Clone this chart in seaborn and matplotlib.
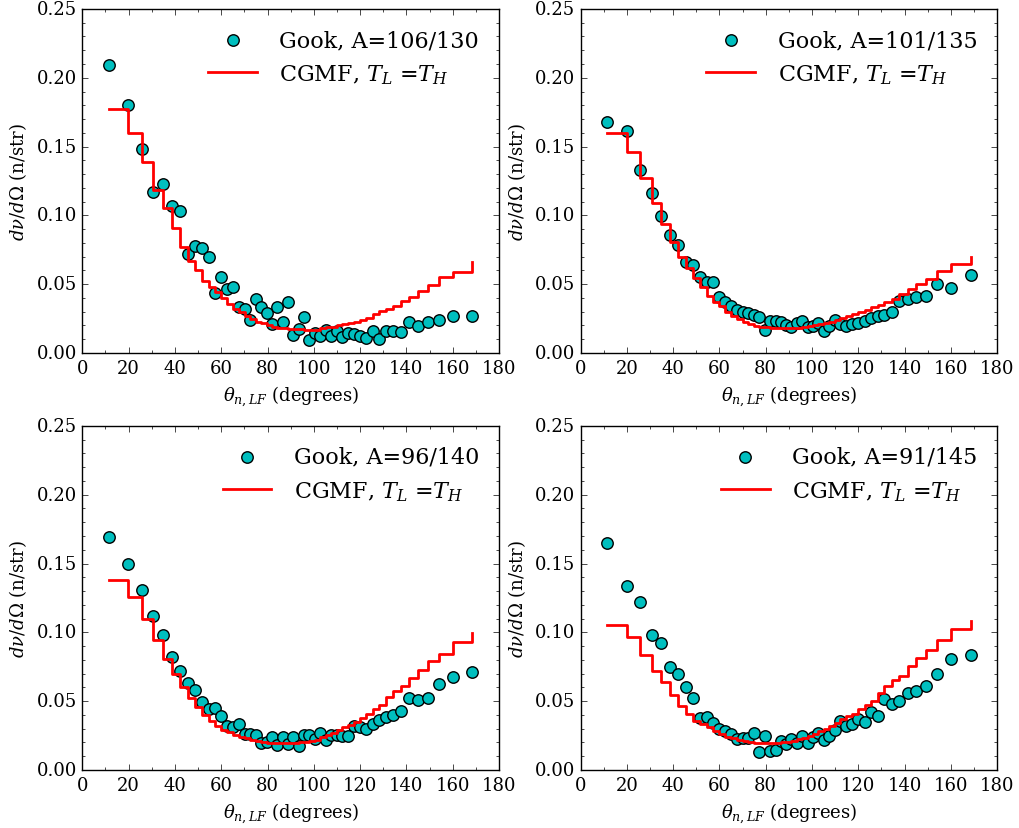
import matplotlib
matplotlib.use("Agg")
import matplotlib.pyplot as plt
import seaborn as sns
from matplotlib.ticker import MultipleLocator, FormatStrFormatter

plt.style.use("classic")
plt.rcParams["font.family"] = ["DejaVu Serif"]
plt.rcParams["mathtext.fontset"] = "dejavuserif"

# neutron emission angle bins (degrees)
angles = [11.5, 19.9, 25.8, 30.7, 34.9, 38.7, 42.3, 45.6, 48.7, 51.7,
          54.6, 57.3, 60.0, 62.6, 65.2, 67.7, 70.1, 72.5, 74.9, 77.3,
          79.6, 82.0, 84.3, 86.6, 88.9, 91.1, 93.4, 95.7, 98.1, 100.4,
          102.7, 105.1, 107.5, 109.9, 112.3, 114.8, 117.4, 120.0, 122.7, 125.5,
          128.3, 131.3, 134.4, 137.7, 141.3, 145.1, 149.3, 154.2, 160.1, 168.5]

labels = ["A=106/130", "A=101/135", "A=96/140", "A=91/145"]

gook_106_130 = [0.209, 0.180, 0.148, 0.117, 0.123, 0.107, 0.103, 0.072, 0.0775, 0.0763,
                0.070, 0.0434, 0.055, 0.0465, 0.048, 0.0332, 0.032, 0.024, 0.039, 0.0337,
                0.0288, 0.021, 0.0337, 0.0228, 0.0368, 0.0133, 0.0174, 0.0264, 0.0092, 0.0145,
                0.0126, 0.017, 0.012, 0.0162, 0.0114, 0.0145, 0.014, 0.0126, 0.0111, 0.0162,
                0.0102, 0.0158, 0.0162, 0.0155, 0.0228, 0.0198, 0.0228, 0.0242, 0.0269, 0.0269]
cgmf_106_130 = [0.177, 0.160, 0.139, 0.1187, 0.105, 0.0906, 0.0773, 0.067, 0.0605, 0.0526,
                0.048, 0.044, 0.040, 0.0356, 0.032, 0.0296, 0.0271, 0.0247, 0.0223, 0.0215,
                0.0206, 0.0187, 0.018, 0.018, 0.0174, 0.0174, 0.0172, 0.0169, 0.0169, 0.0169,
                0.0178, 0.0187, 0.0192, 0.0206, 0.021, 0.0218, 0.0228, 0.024, 0.0257, 0.028,
                0.0305, 0.032, 0.034, 0.0375, 0.041, 0.045, 0.0494, 0.0555, 0.059, 0.0659]

gook_101_135 = [0.168, 0.161, 0.133, 0.1165, 0.0993, 0.086, 0.0787, 0.0659, 0.0642, 0.055,
                0.0518, 0.0518, 0.041, 0.0368, 0.0339, 0.031, 0.0296, 0.029, 0.0279, 0.026,
                0.0167, 0.023, 0.0235, 0.0223, 0.0203, 0.0187, 0.0218, 0.0235, 0.0187, 0.0194,
                0.0216, 0.0162, 0.0194, 0.0242, 0.0208, 0.0194, 0.021, 0.0216, 0.0235, 0.0252,
                0.0271, 0.0276, 0.030, 0.038, 0.039, 0.041, 0.0417, 0.050, 0.0475, 0.0567]
cgmf_101_135 = [0.160, 0.146, 0.127, 0.109, 0.094, 0.081, 0.070, 0.0615, 0.0545, 0.0477,
                0.0417, 0.0373, 0.034, 0.030, 0.0267, 0.0247, 0.0228, 0.021, 0.0199, 0.019,
                0.0187, 0.0183, 0.018, 0.018, 0.018, 0.0182, 0.0185, 0.019, 0.0197, 0.0203,
                0.021, 0.0218, 0.0228, 0.024, 0.0252, 0.0268, 0.0283, 0.030, 0.0315, 0.0332,
                0.0349, 0.037, 0.039, 0.043, 0.0465, 0.050, 0.054, 0.0598, 0.0647, 0.0695]

gook_96_140 = [0.169, 0.150, 0.1306, 0.1121, 0.0983, 0.0819, 0.0722, 0.0632, 0.0584, 0.0492,
               0.0443, 0.0448, 0.0395, 0.0318, 0.031, 0.0334, 0.0262, 0.0262, 0.0257, 0.0196,
               0.0201, 0.0242, 0.0182, 0.0237, 0.0189, 0.0237, 0.0177, 0.0257, 0.0257, 0.0225,
               0.0267, 0.022, 0.0257, 0.0255, 0.025, 0.025, 0.0322, 0.031, 0.0298, 0.0334,
               0.0366, 0.0383, 0.040, 0.0431, 0.0521, 0.0511, 0.0521, 0.0625, 0.0674, 0.071]
cgmf_96_140 = [0.1378, 0.1257, 0.110, 0.0945, 0.0807, 0.0698, 0.0606, 0.052, 0.0455, 0.040,
               0.0358, 0.0318, 0.0293, 0.0274, 0.0257, 0.0242, 0.023, 0.022, 0.021, 0.0201,
               0.0196, 0.0194, 0.0194, 0.0194, 0.0194, 0.0196, 0.020, 0.0205, 0.021, 0.022,
               0.024, 0.0255, 0.027, 0.029, 0.031, 0.033, 0.0352, 0.038, 0.0407, 0.0443,
               0.0472, 0.0528, 0.0576, 0.0613, 0.0669, 0.0729, 0.0795, 0.0843, 0.0933, 0.0993]

gook_91_145 = [0.165, 0.134, 0.1219, 0.0983, 0.0925, 0.0746, 0.070, 0.0601, 0.0521, 0.0378,
               0.0387, 0.0342, 0.0298, 0.0286, 0.0262, 0.0225, 0.0233, 0.0233, 0.0269, 0.0129,
               0.0245, 0.014, 0.0145, 0.0213, 0.0189, 0.0225, 0.0196, 0.025, 0.0196, 0.0242,
               0.0269, 0.022, 0.0245, 0.0293, 0.0358, 0.0318, 0.0334, 0.037, 0.0351, 0.0419,
               0.039, 0.0516, 0.048, 0.0501, 0.056, 0.0572, 0.0608, 0.0698, 0.0807, 0.0836]
cgmf_91_145 = [0.1056, 0.0964, 0.0838, 0.0722, 0.0637, 0.0545, 0.0467, 0.0407, 0.0358, 0.0334,
               0.031, 0.0281, 0.0262, 0.0242, 0.023, 0.022, 0.0213, 0.0206, 0.0196, 0.0196,
               0.0196, 0.0196, 0.0196, 0.020, 0.0205, 0.021, 0.0222, 0.0235, 0.025, 0.0265,
               0.028, 0.030, 0.032, 0.034, 0.037, 0.039, 0.041, 0.044, 0.047, 0.050,
               0.056, 0.0608, 0.0654, 0.0685, 0.0754, 0.0812, 0.0872, 0.0947, 0.1025, 0.1085]

panels = [(labels[0], gook_106_130, cgmf_106_130),
          (labels[1], gook_101_135, cgmf_101_135),
          (labels[2], gook_96_140, cgmf_96_140),
          (labels[3], gook_91_145, cgmf_91_145)]

fig, axes = plt.subplots(2, 2, figsize=(10.19, 8.29), dpi=100)
fig.subplots_adjust(left=0.0808, right=0.9786, top=0.988, bottom=0.070,
                    wspace=0.1956, hspace=0.212)

for ax, (lab, gook, cgmf) in zip(axes.flat, panels):
    sns.scatterplot(x=angles, y=gook, ax=ax, color="c", edgecolor="k",
                    linewidth=1, s=68, label=f"Gook, {lab}", zorder=2)
    sns.lineplot(x=angles, y=cgmf, ax=ax, color="r", lw=2,
                 drawstyle="steps-post", label=r"CGMF, $T_L$ =$T_H$", zorder=3)
    ax.set_xlim(0, 180)
    ax.set_ylim(0, 0.25)
    ax.xaxis.set_major_locator(MultipleLocator(20))
    ax.xaxis.set_minor_locator(MultipleLocator(10))
    ax.yaxis.set_major_locator(MultipleLocator(0.05))
    ax.yaxis.set_minor_locator(MultipleLocator(0.01))
    ax.yaxis.set_major_formatter(FormatStrFormatter("%.2f"))
    ax.tick_params(which="both", direction="in", top=True, right=True, labelsize=13)
    ax.set_xlabel(r"$\theta_{n,LF}$ (degrees)", fontsize=13)
    ax.set_ylabel(r"$d\nu/d\Omega$ (n/str)", fontsize=13)
    ax.legend(loc="upper right", frameon=False, scatterpoints=1, numpoints=1,
              fontsize=16, handlelength=2.2, handletextpad=1.0)

fig.savefig("out.png", dpi=100)
